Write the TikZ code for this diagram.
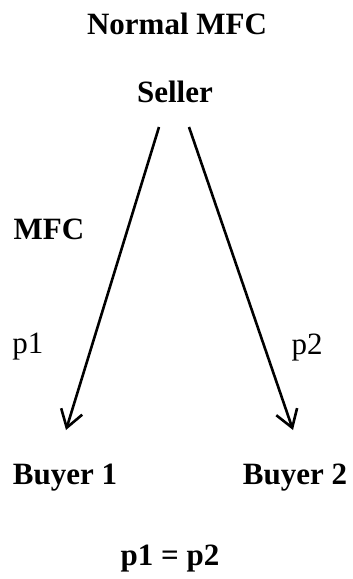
\documentclass[tikz,border=0pt]{standalone}
\usepackage{fontspec}
\setmainfont{Liberation Serif}
\usetikzlibrary{arrows.meta,positioning}
\tikzset{
  title/.style = {font=\bfseries\fontsize{31}{36}\selectfont, inner sep=0pt, anchor=base},
  price/.style = {font=\fontsize{31}{36}\selectfont, inner sep=0pt, anchor=base},
  link/.style  = {-{Straight Barb[length=17pt,width=22pt]}, line width=2.6pt},
}
\begin{document}
\begin{tikzpicture}[x=1pt,y=-1pt]
  \useasboundingbox (0,0) rectangle (353,579);
  \node[title] (head)   at (177,34)  {Normal MFC};
  \node[title] (seller) at (175,102) {Seller};
  \node[title] (mfc)    at (49,239)  {MFC};
  \node[price] (pa)     at (28,353)  {p1};
  \node[price] (pb)     at (307,354) {p2};
  \node[title] (buyera) at (65,484)  {Buyer 1};
  \node[title] (buyerb) at (295,484) {Buyer 2};
  \node[title] (eq)     at (170,565) {p1 = p2};
  % arrow ends
  \coordinate (sa) at (159,127);
  \coordinate (sb) at (189,127);
  \coordinate (ta) at (66,430);
  \coordinate (tb) at (293,430);
  \draw[link] (sa) -- (ta);
  \draw[link] (sb) -- (tb);
\end{tikzpicture}
\end{document}
